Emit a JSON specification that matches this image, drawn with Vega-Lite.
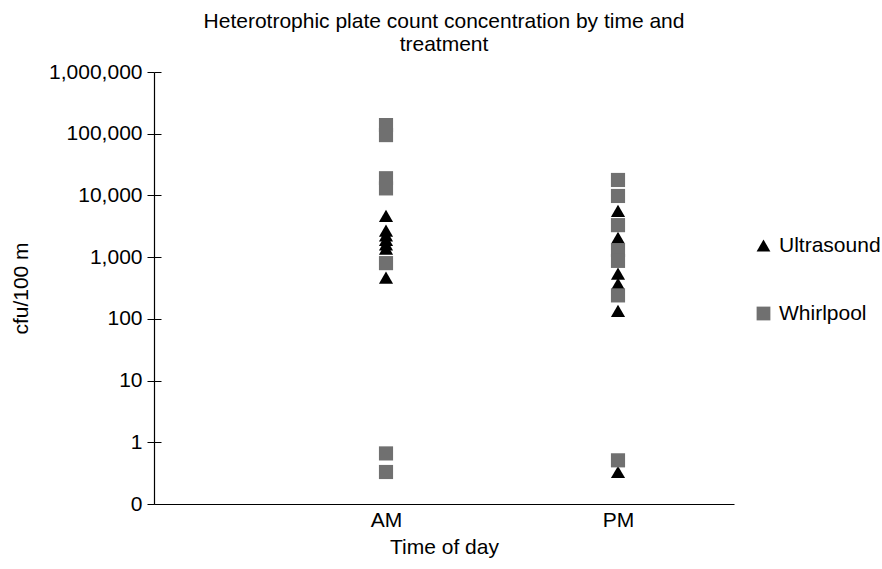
{
  "$schema": "https://vega.github.io/schema/vega-lite/v6.json",
  "width": 580,
  "height": 432,
  "autosize": {"type": "none"},
  "padding": {"left": 154, "top": 72, "right": 148, "bottom": 65},
  "background": "white",
  "title": {
    "text": ["Heterotrophic plate count concentration by time and", "treatment"],
    "font": "Liberation Sans",
    "fontSize": 21,
    "fontWeight": "normal",
    "color": "#000",
    "lineHeight": 23,
    "anchor": "middle",
    "offset": 6
  },
  "config": {
    "view": {"stroke": null},
    "font": "Liberation Sans"
  },
  "data": {
    "values": [
      {"time": "AM", "slot": 1, "treatment": "Ultrasound", "cfu": 4650},
      {"time": "AM", "slot": 1, "treatment": "Ultrasound", "cfu": 2680},
      {"time": "AM", "slot": 1, "treatment": "Ultrasound", "cfu": 2260},
      {"time": "AM", "slot": 1, "treatment": "Ultrasound", "cfu": 1910},
      {"time": "AM", "slot": 1, "treatment": "Ultrasound", "cfu": 1610},
      {"time": "AM", "slot": 1, "treatment": "Ultrasound", "cfu": 1370},
      {"time": "AM", "slot": 1, "treatment": "Ultrasound", "cfu": 465},
      {"time": "PM", "slot": 2, "treatment": "Ultrasound", "cfu": 5600},
      {"time": "PM", "slot": 2, "treatment": "Ultrasound", "cfu": 2050},
      {"time": "PM", "slot": 2, "treatment": "Ultrasound", "cfu": 1270},
      {"time": "PM", "slot": 2, "treatment": "Ultrasound", "cfu": 540},
      {"time": "PM", "slot": 2, "treatment": "Ultrasound", "cfu": 370},
      {"time": "PM", "slot": 2, "treatment": "Ultrasound", "cfu": 135},
      {"time": "PM", "slot": 2, "treatment": "Ultrasound", "cfu": 0.33},
      {"time": "AM", "slot": 1, "treatment": "Whirlpool", "cfu": 138000},
      {"time": "AM", "slot": 1, "treatment": "Whirlpool", "cfu": 95000},
      {"time": "AM", "slot": 1, "treatment": "Whirlpool", "cfu": 19000},
      {"time": "AM", "slot": 1, "treatment": "Whirlpool", "cfu": 13000},
      {"time": "AM", "slot": 1, "treatment": "Whirlpool", "cfu": 800},
      {"time": "AM", "slot": 1, "treatment": "Whirlpool", "cfu": 0.66},
      {"time": "AM", "slot": 1, "treatment": "Whirlpool", "cfu": 0.33},
      {"time": "PM", "slot": 2, "treatment": "Whirlpool", "cfu": 17800},
      {"time": "PM", "slot": 2, "treatment": "Whirlpool", "cfu": 9800},
      {"time": "PM", "slot": 2, "treatment": "Whirlpool", "cfu": 3300},
      {"time": "PM", "slot": 2, "treatment": "Whirlpool", "cfu": 1300},
      {"time": "PM", "slot": 2, "treatment": "Whirlpool", "cfu": 870},
      {"time": "PM", "slot": 2, "treatment": "Whirlpool", "cfu": 240},
      {"time": "PM", "slot": 2, "treatment": "Whirlpool", "cfu": 0.51}
    ]
  },
  "mark": {"type": "point", "filled": true, "opacity": 1, "size": 200},
  "encoding": {
    "x": {
      "field": "slot",
      "type": "quantitative",
      "scale": {"domain": [0, 2.5], "nice": false, "zero": false},
      "axis": {
        "title": "Time of day",
        "values": [1, 2],
        "labelExpr": "datum.value == 1 ? 'AM' : 'PM'",
        "ticks": false,
        "grid": false,
        "domainColor": "#000",
        "domainWidth": 1.2,
        "labelFont": "Liberation Sans",
        "labelFontSize": 21,
        "labelColor": "#000",
        "labelPadding": 5,
        "titleFont": "Liberation Sans",
        "titleFontSize": 21,
        "titleFontWeight": "normal",
        "titleColor": "#000",
        "titlePadding": 6
      }
    },
    "y": {
      "field": "cfu",
      "type": "quantitative",
      "scale": {"type": "log", "domain": [0.1, 1000000], "nice": false},
      "axis": {
        "title": "cfu/100 m",
        "values": [0.1, 1, 10, 100, 1000, 10000, 100000, 1000000],
        "labelExpr": "datum.value < 1 ? '0' : format(datum.value, ',')",
        "tickSize": 7,
        "tickColor": "#000",
        "tickWidth": 1,
        "grid": true,
        "gridColor": "#000",
        "gridWidth": 1,
        "gridDash": [7, 2000],
        "domainColor": "#000",
        "domainWidth": 1.2,
        "labelFont": "Liberation Sans",
        "labelFontSize": 21,
        "labelColor": "#000",
        "labelPadding": 5,
        "titleFont": "Liberation Sans",
        "titleFontSize": 21,
        "titleFontWeight": "normal",
        "titleColor": "#000",
        "titlePadding": 17
      }
    },
    "shape": {
      "field": "treatment",
      "type": "nominal",
      "scale": {"domain": ["Ultrasound", "Whirlpool"], "range": ["triangle-up", "square"]},
      "legend": {
        "title": null,
        "orient": "none",
        "legendX": 599,
        "legendY": 163,
        "padding": 0,
        "rowPadding": 46,
        "symbolSize": 190,
        "symbolStrokeWidth": 0,
        "labelFont": "Liberation Sans",
        "labelFontSize": 21,
        "labelColor": "#000",
        "labelOffset": 5
      }
    },
    "color": {
      "field": "treatment",
      "type": "nominal",
      "scale": {"domain": ["Ultrasound", "Whirlpool"], "range": ["#000000", "#707070"]},
      "legend": {
        "title": null,
        "orient": "none",
        "legendX": 599,
        "legendY": 163,
        "padding": 0,
        "rowPadding": 46,
        "symbolSize": 190,
        "symbolStrokeWidth": 0,
        "labelFont": "Liberation Sans",
        "labelFontSize": 21,
        "labelColor": "#000",
        "labelOffset": 5
      }
    }
  }
}
